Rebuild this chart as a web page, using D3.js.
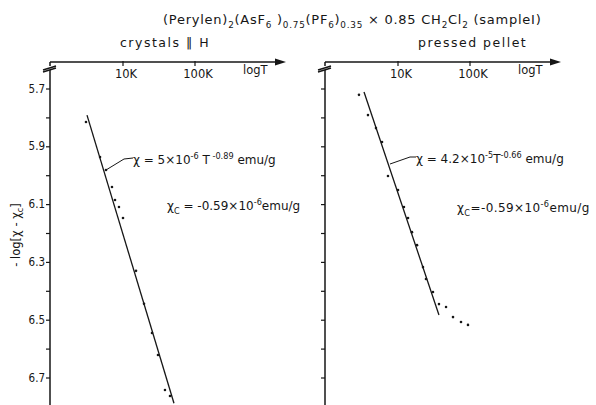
<!DOCTYPE html>
<html>
<head>
<meta charset="utf-8">
<script src="https://cdn.jsdelivr.net/npm/d3@7"></script>
<style>
  html, body { margin: 0; padding: 0; background: #fff; }
  svg { display: block; font-family: "DejaVu Sans", sans-serif; }
</style>
</head>
<body>
<svg id="chart" width="596" height="405"></svg>
<script>
/// data ///
// log T (T in K) and -log[x - xc]
const crystalLogT = [3.486, 3.681, 3.764, 3.847, 3.889, 3.944, 4.000, 4.181, 4.292, 4.403, 4.486, 4.583, 4.653];
const crystalVal  = [5.816, 5.937, 5.982, 6.041, 6.086, 6.110, 6.148, 6.331, 6.445, 6.546, 6.622, 6.743, 6.764];
const pelletLogT = [3.458, 3.583, 3.694, 3.778, 3.861, 4.000, 4.083, 4.139, 4.194, 4.264, 4.347, 4.389, 4.486, 4.569, 4.667, 4.764, 4.875, 4.972];
const pelletVal  = [5.722, 5.792, 5.837, 5.885, 6.003, 6.051, 6.110, 6.148, 6.197, 6.242, 6.318, 6.359, 6.404, 6.446, 6.456, 6.491, 6.508, 6.518];
// fitted power laws, end points
const crystalFitT = [3.5, 4.708];
const crystalFitV = [5.792, 6.789];
const pelletFitT = [3.528, 4.569];
const pelletFitV = [5.712, 6.484];
// ticks
const yTicks = [5.7, 5.8, 5.9, 6.0, 6.1, 6.2, 6.3, 6.4, 6.5, 6.6, 6.7];
const yLabelTicks = [5.7, 5.9, 6.1, 6.3, 6.5, 6.7];
const xTickVals = [4, 5];
const xTickLabels = ["10K", "100K"];

/// constants ///
const ink = "#161616";
const axisY = 62;
const svg = d3.select("#chart");

const y = d3.scaleLinear().domain([5.7, 6.7]).range([88.5, 377.5]);

// writes text with sub/superscripts, parts = [[text, "n"|"sub"|"sup"], ...]
function rich(g, x, yy, parts, size, spacing) {
  const t = g.append("text").attr("x", x).attr("y", yy)
    .attr("font-size", size).attr("fill", ink)
    .attr("letter-spacing", spacing || 0);
  let shift = 0;
  parts.forEach(([s, mode]) => {
    const target = mode === "sub" ? size * 0.32 : mode === "sup" ? -size * 0.42 : 0;
    t.append("tspan")
      .attr("dy", target - shift)
      .attr("font-size", mode === "n" ? size : size * 0.68)
      .text(s);
    shift = target;
  });
  return t;
}

function panel(x0, xScale, logT, vals, fitT, fitV, showLabels) {
  const g = svg.append("g");
  const xEnd = 286 + (x0 - 51);

  // x axis with arrow
  g.append("line").attr("x1", x0 - 1).attr("x2", xEnd - 8)
    .attr("y1", axisY).attr("y2", axisY)
    .attr("stroke", ink).attr("stroke-width", 1.5);
  g.append("path")
    .attr("d", `M${xEnd},${axisY} L${xEnd - 11},${axisY - 3.5} L${xEnd - 11},${axisY + 3.5} Z`)
    .attr("fill", ink);
  g.selectAll(".xt").data(xTickVals).join("line")
    .attr("x1", d => xScale(d)).attr("x2", d => xScale(d))
    .attr("y1", axisY - 1).attr("y2", axisY + 4)
    .attr("stroke", ink).attr("stroke-width", 1.2);
  g.selectAll(".xl").data(xTickVals).join("text")
    .attr("x", d => xScale(d) + 3).attr("y", axisY + 16)
    .attr("text-anchor", "middle").attr("font-size", 11.5).attr("fill", ink)
    .text((d, i) => xTickLabels[i]);
  g.append("text").attr("x", xEnd - 43).attr("y", axisY + 12)
    .attr("font-size", 11.5).attr("fill", ink).text("logT");

  // y axis, broken near the top
  g.append("line").attr("x1", x0 - 1).attr("x2", x0 - 1)
    .attr("y1", axisY).attr("y2", 66)
    .attr("stroke", ink).attr("stroke-width", 1.5);
  g.append("line").attr("x1", x0 - 1).attr("x2", x0 - 1)
    .attr("y1", 70).attr("y2", 405)
    .attr("stroke", ink).attr("stroke-width", 1.5);
  g.append("path")
    .attr("d", `M${x0 - 8},${70} L${x0 + 5},${66} M${x0 - 8},${72} L${x0 + 5},${68}`)
    .attr("stroke", ink).attr("stroke-width", 1.4).attr("fill", "none");

  const yAxis = d3.axisLeft(y).tickValues(yTicks).tickSize(4)
    .tickFormat(d => showLabels && yLabelTicks.some(v => Math.abs(v - d) < 1e-6) ? d3.format(".1f")(d) : "");
  g.append("g").attr("transform", `translate(${x0 - 1},0)`)
    .call(yAxis)
    .call(a => a.select(".domain").remove())
    .call(a => a.selectAll(".tick line").attr("stroke", ink).attr("stroke-width", 1.2))
    .call(a => a.selectAll(".tick text").attr("fill", ink)
      .attr("font-size", 11.5).attr("font-family", "DejaVu Sans Condensed, DejaVu Sans").attr("x", -5));

  // fit line
  g.append("line")
    .attr("x1", xScale(fitT[0])).attr("y1", y(fitV[0]))
    .attr("x2", xScale(fitT[1])).attr("y2", y(fitV[1]))
    .attr("stroke", ink).attr("stroke-width", 1.3);

  // measured points
  g.selectAll(".pt").data(logT).join("circle")
    .attr("cx", d => xScale(d)).attr("cy", (d, i) => y(vals[i]))
    .attr("r", 1.3).attr("fill", ink);
  return g;
}

const xLeft = d3.scaleLinear().domain([3, 5]).range([51, 195]);
const xRight = d3.scaleLinear().domain([3, 5]).range([326, 470]);

const gl = panel(51, xLeft, crystalLogT, crystalVal, crystalFitT, crystalFitV, true);
const gr = panel(326, xRight, pelletLogT, pelletVal, pelletFitT, pelletFitV, false);

// y axis title
svg.append("text")
  .attr("transform", "translate(20,235) rotate(-90)")
  .attr("text-anchor", "middle").attr("font-size", 11.5).attr("fill", ink)
  .text("- log[χ - χ")
  .append("tspan").attr("dy", 3).attr("font-size", 8).text("c")
  .append("tspan").attr("dy", -3).attr("font-size", 11.5).text("]");

// heading
rich(svg, 163, 24, [
  ["(Perylen)", "n"], ["2", "sub"], ["(AsF", "n"], ["6", "sub"], [" )", "n"], ["0.75", "sub"],
  ["(PF", "n"], ["6", "sub"], [")", "n"], ["0.35", "sub"], [" × 0.85 CH", "n"], ["2", "sub"],
  ["Cl", "n"], ["2", "sub"], ["  (sampleI)", "n"]
], 13, 0.75);
svg.append("text").attr("x", 120).attr("y", 47).attr("font-size", 12.5).attr("fill", ink)
  .attr("letter-spacing", 1.5).text("crystals \u2016 H");
svg.append("text").attr("x", 418).attr("y", 47).attr("font-size", 12.5).attr("fill", ink)
  .attr("letter-spacing", 1.5).text("pressed pellet");

// annotations, left
gl.append("path").attr("d", `M${xLeft(3.764)},${y(5.982)} L124,159 L133,158`)
  .attr("stroke", ink).attr("stroke-width", 1).attr("fill", "none");
rich(gl, 133, 164, [["χ = 5×10", "n"], ["-6", "sup"], [" T", "n"], [" -0.89", "sup"], [" emu/g", "n"]], 12);
rich(gl, 167, 210, [["χ", "n"], ["C", "sub"], [" = -0.59×10", "n"], ["-6", "sup"], ["emu/g", "n"]], 12);

// annotations, right
gr.append("path").attr("d", `M390,164 L410,157 L416,157`)
  .attr("stroke", ink).attr("stroke-width", 1).attr("fill", "none");
rich(gr, 416, 163, [["χ = 4.2×10", "n"], ["-5", "sup"], ["T", "n"], ["-0.66", "sup"], [" emu/g", "n"]], 12);
rich(gr, 457, 212, [["χ", "n"], ["C", "sub"], ["=-0.59×10", "n"], ["-6", "sup"], ["emu/g", "n"]], 12, 0.4);
</script>
</body>
</html>
